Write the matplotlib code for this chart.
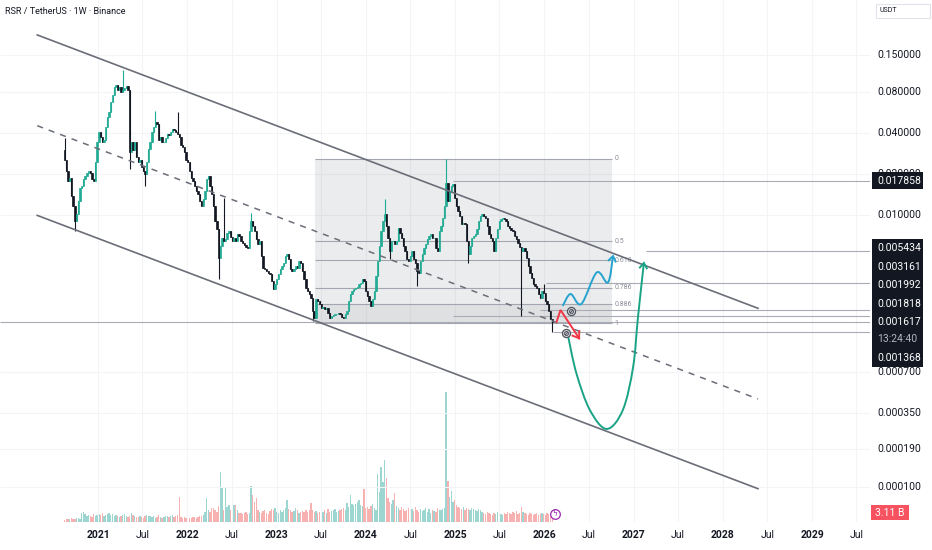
import numpy as np
import pandas as pd
import matplotlib
matplotlib.use("Agg")
import matplotlib.pyplot as plt
import matplotlib.dates as mdates
from matplotlib.path import Path
from matplotlib.patches import PathPatch, Rectangle
from matplotlib.lines import Line2D
from matplotlib.transforms import IdentityTransform, offset_copy

plt.rcParams['font.family'] = ['Roboto', 'DejaVu Sans']

W, H = 932, 550

# ---- weekly candles (RSR/USDT, closes) ----
week_start = "2020-08-17"
first_open = 0.0300
closes = [
    0.0255, 0.0209, 0.0177, 0.0186, 0.0137, 0.0116, 0.00899, 0.0101, 0.0126, 0.0157,
    0.0162, 0.0183, 0.0192, 0.0202, 0.0209, 0.0202, 0.0183, 0.0177, 0.0247, 0.0346,
    0.0410, 0.0377, 0.0346, 0.0358, 0.0446, 0.0527, 0.0574, 0.0679, 0.0764, 0.0874,
    0.0904, 0.0831, 0.0874, 0.0803, 0.0831, 0.0859, 0.0889, 0.0831, 0.0292, 0.0346,
    0.0302, 0.0346, 0.0269, 0.0247, 0.0255, 0.0227, 0.0209, 0.0199, 0.0247, 0.0307,
    0.0346, 0.0410, 0.0446, 0.0485, 0.0469, 0.0358, 0.0377, 0.0346, 0.0346, 0.0371,
    0.0396, 0.0390, 0.0410, 0.0431, 0.0424, 0.0410, 0.0396, 0.0377, 0.0329, 0.0318,
    0.0292, 0.0255, 0.0247, 0.0209, 0.0186, 0.0177, 0.0162, 0.0149, 0.0142, 0.0126,
    0.0116, 0.0130, 0.0149, 0.0183, 0.0192, 0.0162, 0.0142, 0.0116, 0.00899, 0.00785,
    0.00482, 0.00590, 0.00675, 0.00642, 0.00664, 0.00735, 0.00760, 0.00686, 0.00642, 0.00675,
    0.00642, 0.00722, 0.00698, 0.00642, 0.00620, 0.00600, 0.00580, 0.00570, 0.00760, 0.00899,
    0.00826, 0.00760, 0.00664, 0.00610, 0.00642, 0.00498, 0.00407, 0.00400, 0.00387, 0.00374,
    0.00368, 0.00327, 0.00286, 0.00311, 0.00338, 0.00368, 0.00400, 0.00421, 0.00443, 0.00498,
    0.00516, 0.00474, 0.00400, 0.00387, 0.00400, 0.00421, 0.00407, 0.00458, 0.00443, 0.00387,
    0.00338, 0.00291, 0.00277, 0.00263, 0.00246, 0.00197, 0.00175, 0.00242, 0.00234, 0.00222,
    0.00208, 0.00211, 0.00204, 0.00208, 0.00191, 0.00175, 0.00181, 0.00184, 0.00187, 0.00187,
    0.00191, 0.00187, 0.00178, 0.00175, 0.00187, 0.00197, 0.00234, 0.00263, 0.00277, 0.00286,
    0.00291, 0.00296, 0.00311, 0.00316, 0.00338, 0.00327, 0.00277, 0.00254, 0.00234, 0.00215,
    0.00242, 0.00277, 0.00356, 0.00458, 0.00590, 0.00760, 0.00899, 0.0101, 0.00826, 0.00675,
    0.00542, 0.00642, 0.00642, 0.00610, 0.00642, 0.00799, 0.00735, 0.00675, 0.00590, 0.00542,
    0.00474, 0.00458, 0.00498, 0.00542, 0.00474, 0.00443, 0.00387, 0.00374, 0.00458, 0.00516,
    0.00570, 0.00610, 0.00664, 0.00698, 0.00722, 0.00675, 0.00675, 0.00570, 0.00542, 0.00760,
    0.00826, 0.00946, 0.0116, 0.0171, 0.0126, 0.0149, 0.0162, 0.0168, 0.0133, 0.0116,
    0.01064, 0.00978, 0.00855, 0.00869, 0.00855, 0.00642, 0.00516, 0.00590, 0.00675, 0.00698,
    0.00722, 0.00785, 0.00899, 0.00978, 0.0101, 0.00978, 0.00946, 0.00826, 0.00722, 0.00675,
    0.00642, 0.00542, 0.00675, 0.00785, 0.00899, 0.00930, 0.00946, 0.00930, 0.00899, 0.00826,
    0.00799, 0.00772, 0.00760, 0.00698, 0.00664, 0.00620, 0.00580, 0.00542, 0.00570, 0.00542,
    0.00482, 0.00421, 0.00374, 0.00344, 0.00311, 0.00301, 0.00291, 0.00263, 0.00246, 0.00277,
    0.00268, 0.00234, 0.00222, 0.00197, 0.00172, 0.001617,
]
# notable wicks
spike_weeks = [0, 34, 53, 66, 93, 109, 187, 223, 280]
spike_highs = [0.0371, 0.117, 0.058, 0.0568, 0.0133, 0.0103, 0.0130, 0.0258, 0.00311]
dip_weeks = [6, 38, 47, 90, 145, 190, 206, 236, 267, 285]
dip_lows = [0.0076, 0.0216, 0.0162, 0.00338, 0.00167, 0.00474, 0.00301, 0.00443, 0.001818, 0.001368]

# weekly volume, billions
volumes = [
    0.8, 1.3, 1.3, 1.3, 1.7, 1.3, 1.3, 1.7, 1.7, 1.3,
    3.8, 4.2, 3.4, 2.5, 2.9, 2.5, 2.1, 3.4, 2.5, 2.9,
    3.4, 2.9, 3.8, 2.5, 2.9, 3.4, 3.8, 2.9, 3.4, 2.5,
    2.9, 2.5, 2.1, 2.5, 2.9, 3.4, 2.5, 2.1, 2.5, 3.8,
    2.9, 2.5, 2.1, 2.1, 2.5, 2.1, 1.7, 2.5, 2.9, 2.5,
    2.5, 2.1, 2.5, 1.7, 2.1, 2.9, 2.1, 1.7, 2.1, 2.5,
    2.5, 2.1, 2.5, 2.9, 2.1, 2.5, 2.9, 10.5, 2.1, 1.7,
    2.1, 1.7, 2.1, 1.7, 1.7, 2.1, 2.1, 1.7, 2.1, 2.5,
    2.5, 2.9, 4.2, 10.1, 5.0, 4.2, 5.9, 5.9, 5.0, 4.2,
    6.7, 21.0, 14.3, 5.0, 14.7, 6.3, 7.1, 5.0, 5.9, 7.1,
    7.1, 5.0, 3.8, 3.8, 3.4, 3.8, 4.2, 3.4, 3.8, 15.1,
    11.3, 8.4, 10.1, 5.0, 4.2, 3.8, 4.6, 5.0, 3.8, 3.4,
    4.6, 5.5, 5.0, 5.9, 4.2, 3.8, 5.0, 4.2, 5.0, 5.9,
    9.2, 5.5, 5.0, 4.2, 4.6, 5.9, 5.0, 3.8, 4.2, 4.6,
    4.2, 5.0, 4.2, 5.0, 8.0, 5.0, 4.2, 4.6, 3.8, 4.2,
    4.6, 4.2, 5.0, 3.8, 5.5, 4.2, 4.6, 5.0, 5.5, 4.2,
    4.6, 5.0, 5.5, 5.9, 5.0, 8.0, 6.3, 11.3, 7.6, 7.1,
    7.6, 8.4, 9.2, 7.1, 6.7, 13.9, 5.9, 6.3, 5.5, 6.7,
    7.6, 5.9, 5.0, 20.2, 12.6, 23.1, 16.8, 26.0, 18.5, 10.1,
    8.4, 7.6, 9.2, 12.2, 6.7, 5.9, 5.0, 6.3, 5.5, 4.6,
    5.0, 5.9, 4.2, 5.5, 4.6, 6.3, 5.0, 4.2, 5.5, 4.6,
    5.0, 5.9, 4.2, 5.5, 3.8, 5.0, 4.6, 4.2, 5.9, 5.0,
    5.0, 5.5, 5.9, 54.6, 17.2, 10.5, 13.0, 8.4, 9.2, 7.1,
    6.3, 5.9, 5.5, 6.3, 5.0, 5.9, 5.5, 5.0, 5.9, 5.5,
    5.0, 4.6, 5.5, 5.0, 4.2, 3.8, 3.4, 4.2, 3.8, 3.4,
    2.9, 3.8, 3.4, 4.2, 3.8, 3.4, 2.9, 3.8, 3.4, 4.2,
    3.8, 3.4, 4.2, 3.8, 4.6, 3.4, 3.8, 6.3, 4.2, 3.8,
    3.4, 2.9, 3.8, 3.4, 2.9, 3.4, 3.8, 2.9, 3.4, 3.8,
    3.4, 2.9, 3.8, 3.4, 2.9, 3.11,
]
last_price = 0.001617
countdown = "13:24:40"
volume_label = "3.11 B"

price_ticks = [0.15, 0.08, 0.04, 0.02, 0.01, 0.0007, 0.00035, 0.00019, 0.0001]
time_ticks = ['2021-01-01', '2021-07-01', '2022-01-01', '2022-07-01', '2023-01-01', '2023-07-01',
              '2024-01-01', '2024-07-01', '2025-01-01', '2025-07-01', '2026-01-01', '2026-07-01',
              '2027-01-01', '2027-07-01', '2028-01-01', '2028-07-01', '2029-01-01', '2029-07-01']
time_labels = ['2021', 'Jul', '2022', 'Jul', '2023', 'Jul', '2024', 'Jul', '2025', 'Jul',
               '2026', 'Jul', '2027', 'Jul', '2028', 'Jul', '2029', 'Jul']

# ---- drawings ----
channel_dates = ['2020-04-27', '2028-05-24']
channel_upper = [0.211, 0.002055]
channel_mid = [0.04534, 0.000442]
channel_lower = [0.00992, 9.67e-5]

fib_dates = ['2023-06-06', '2026-10-03']
fib_high = 0.0258
fib_low = 0.0016
fib_levels = [0, 0.5, 0.618, 0.786, 0.886, 1]
fib_labels = ['0', '0.5', '0.618', '0.786', '0.886', '1']

ray_prices = [0.017858, 0.005434, 0.003161, 0.001992, 0.001818, 0.001368]
ray_starts = ['2024-12-22', '2027-02-20', '2026-01-07', '2025-12-13', '2024-12-22', '2026-02-04']

cyan_dates = ['2026-03-17', '2026-04-18', '2026-06-01', '2026-08-03', '2026-09-18', '2026-10-09']
cyan_prices = [0.002137, 0.002618, 0.002211, 0.003770, 0.003182, 0.004983]
green_dates = ['2026-04-07', '2026-05-12', '2026-07-06', '2026-09-13', '2026-11-18',
               '2026-12-30', '2027-01-19', '2027-02-12']
green_prices = [0.001307, 0.000683, 0.000367, 0.000266, 0.000367, 0.000760, 0.001773, 0.004428]
red_dates = ['2026-02-20', '2026-03-08', '2026-05-23']
red_prices = [0.001637, 0.001998, 0.001237]
icon_dates = ['2026-04-21', '2026-04-01']
icon_prices = [0.001974, 0.001345]
event_date = '2026-02-13'
event_volume = 3.4

UP, DOWN = '#22ab94', '#131722'
GRID = '#f3f4f6'
TXT = '#131722'

# ---- figure / axes ----
fig = plt.figure(figsize=(W / 100, H / 100), dpi=100)
ax = fig.add_axes([0, 28 / H, 870 / W, 522 / H])
axv = ax.twinx()
ax.set_zorder(2)
ax.patch.set_visible(False)
axv.set_zorder(1)

jan21 = mdates.datestr2num('2021-01-01')
x0 = jan21 - 98.1 / 89.27 * 365.25
x1 = jan21 + (870 - 98.1) / 89.27 * 365.25
ax.set_yscale('log')
ax.set_xlim(x0, x1)
ax.set_ylim(10 ** -4.2596, 10 ** -0.4186)
axv.set_ylim(0, 219.2)

for a in (ax, axv):
    for s in a.spines.values():
        s.set_visible(False)
ax.tick_params(axis='y', which='both', left=False, right=False, labelleft=False, labelright=False)
axv.tick_params(axis='y', which='both', left=False, right=False, labelleft=False, labelright=False)
ax.yaxis.set_minor_locator(matplotlib.ticker.NullLocator())

tick_x = mdates.datestr2num(time_ticks)
ax.set_xticks(tick_x)
ax.set_xticklabels(time_labels)
ax.tick_params(axis='x', length=0, pad=5.5, labelsize=7.5, labelcolor=TXT)
for lbl, t in zip(ax.get_xticklabels(), time_labels):
    if t != 'Jul':
        lbl.set_fontweight('bold')

# grid
ax.hlines(price_ticks, x0, x1, color=GRID, lw=0.8, zorder=0)
ax.vlines(tick_x, 10 ** -4.2596, 10 ** -0.4186, color=GRID, lw=0.8, zorder=0)

# ---- candles ----
dates = pd.date_range(week_start, periods=len(closes), freq='7D')
x = mdates.date2num(dates)
c = np.array(closes)
o = np.concatenate([[first_open], c[:-1]])
body_hi = np.maximum(o, c)
body_lo = np.minimum(o, c)
hi = body_hi.copy()
lo = body_lo.copy()
for w, v in zip(spike_weeks, spike_highs):
    hi[w] = max(hi[w], v)
for w, v in zip(dip_weeks, dip_lows):
    lo[w] = min(lo[w], v)
up = c >= o
col = np.where(up, UP, DOWN)

ax.vlines(x, lo, hi, colors=col, lw=0.8, zorder=3)
ax.bar(x, body_hi - body_lo, bottom=body_lo, width=5.5, color=col, edgecolor=col, lw=0.5, zorder=3)

vcol = np.where(up, '#26a69a', '#ef5350')
axv.bar(x, volumes, width=5.5, color=vcol, alpha=0.45, lw=0)
axv.scatter([mdates.datestr2num(event_date)], [event_volume], s=48, facecolor='white',
            edgecolor='#9c27b0', lw=0.9, zorder=5)
axv.text(mdates.datestr2num(event_date), event_volume, 'ϟ', color='#9c27b0', fontsize=5.5,
         ha='center', va='center', family=['DejaVu Sans'], zorder=6)

# ---- fib box ----
fd = mdates.datestr2num(fib_dates)
lh, ll = np.log10(fib_high), np.log10(fib_low)
fib_prices = [10 ** (lh - f * (lh - ll)) for f in fib_levels]
ax.fill_between(fd, fib_low, fib_high, color='#787b86', alpha=0.14, lw=0, zorder=1)
ax.fill_between(fd, fib_low, fib_prices[4], color='#787b86', alpha=0.10, lw=0, zorder=1)
ax.hlines(fib_prices, fd[0], fd[1], color='#a3a6ae', lw=0.8, zorder=1.5)
lab_tr = offset_copy(ax.transData, fig=fig, x=3, y=0, units='dots')
for p, t in zip(fib_prices, fib_labels):
    ax.text(fd[1], p, t, transform=lab_tr, fontsize=5, color='#8c8f98', va='center', ha='left', zorder=2)

# ---- horizontal rays and price line ----
for p, d in zip(ray_prices, ray_starts):
    ax.hlines(p, mdates.datestr2num(d), x1, color='#a9acb4', lw=0.8, zorder=1.5)
ax.hlines(last_price, x0, x1, color='#a9acb4', lw=0.8, zorder=1.5)

# ---- channel ----
cd = mdates.datestr2num(channel_dates)
ax.plot(cd, channel_upper, color='#6b6e78', lw=1.2, zorder=4)
ax.plot(cd, channel_lower, color='#6b6e78', lw=1.2, zorder=4)
ax.plot(cd, channel_mid, color='#6b6e78', lw=1.1, dashes=(4, 4), zorder=4)


# ---- hand-drawn projections (smooth paths in pixel space) ----
def to_px(dts, prs):
    return ax.transData.transform(np.column_stack([mdates.datestr2num(dts), prs]))


def smooth(pts):
    verts = [pts[0]]
    codes = [Path.MOVETO]
    n = len(pts)
    for k in range(n - 1):
        p0 = pts[k - 1] if k > 0 else pts[k]
        p1, p2 = pts[k], pts[k + 1]
        p3 = pts[k + 2] if k + 2 < n else pts[k + 1]
        c1 = p1 + (p2 - p0) / 6
        c2 = p2 - (p3 - p1) / 6
        verts += [c1, c2, p2]
        codes += [Path.CURVE4] * 3
    return Path(verts, codes), p2 - c2


def arrowhead(tip, direction, color, size=7, ang=35):
    d = -direction / np.hypot(*direction)
    arms = []
    for s in (ang, -ang):
        r = np.radians(s)
        rot = np.array([[np.cos(r), -np.sin(r)], [np.sin(r), np.cos(r)]])
        arms.append(tip + size * rot @ d)
    ln = Line2D([arms[0][0], tip[0], arms[1][0]], [arms[0][1], tip[1], arms[1][1]],
                color=color, lw=1.4, transform=IdentityTransform(), zorder=6,
                solid_joinstyle='miter', solid_capstyle='butt')
    ax.add_artist(ln)


for dts, prs, color in [(cyan_dates, cyan_prices, '#27a3cf'), (green_dates, green_prices, '#1aa385')]:
    pts = to_px(dts, prs)
    path, tang = smooth(pts)
    ax.add_artist(PathPatch(path, fill=False, edgecolor=color, lw=1.4,
                            transform=IdentityTransform(), zorder=6))
    arrowhead(pts[-1], tang, color)

rp = to_px(red_dates, red_prices)
ax.add_artist(Line2D(rp[:, 0], rp[:, 1], color='#f23645', lw=1.4, transform=IdentityTransform(),
                     zorder=6, solid_joinstyle='miter'))
arrowhead(rp[-1], rp[-1] - rp[-2], '#f23645', size=8)

ax.scatter(mdates.datestr2num(icon_dates), icon_prices, s=34, facecolor='#d9dadd',
           edgecolor='#50535e', lw=0.9, zorder=7)
ax.scatter(mdates.datestr2num(icon_dates), icon_prices, s=10, marker=r'$\oslash$',
           color='#50535e', lw=0.3, zorder=8)

# ---- right price scale ----
ID = IdentityTransform()


def ypx(p):
    return ax.transData.transform((x0, p))[1]


for p in price_ticks:
    fig.text(877, ypx(p), f"{p:.6f}", transform=ID, fontsize=7.5, color=TXT, va='center', ha='left')


def box(yc, h=17, fc='#131722'):
    fig.add_artist(Rectangle((872, yc - h / 2), 51, h, transform=ID, facecolor=fc, edgecolor='none', zorder=11))


def boxtext(yc, s, color='white'):
    fig.text(877, yc, s, transform=ID, fontsize=7.5, color=color, va='center', ha='left', zorder=12)


y17 = ypx(ray_prices[0])
box(y17)
boxtext(y17, f"{ray_prices[0]:.6f}")

y0 = ypx(last_price)
stack = [(74, f"{ray_prices[1]:.6f}", 'white'), (55.5, f"{ray_prices[2]:.6f}", 'white'),
         (37, f"{ray_prices[3]:.6f}", 'white'), (18.5, f"{ray_prices[4]:.6f}", 'white'),
         (0, f"{last_price:.6f}", 'white'), (-17, countdown, '#b2b5be'),
         (-35.5, f"{ray_prices[5]:.6f}", 'white')]
fig.add_artist(Rectangle((872, y0 - 35.5 - 9), 51, 74 + 35.5 + 18, transform=ID,
                         facecolor='#131722', edgecolor='none', zorder=11))
for off, s, tc in stack:
    boxtext(y0 + off, s, tc)

yv = axv.transData.transform((x0, volumes[-1]))[1] + 2
fig.add_artist(Rectangle((871, yv - 7.5), 38, 15, transform=ID, facecolor='#f7525f',
                         edgecolor='none', zorder=11))
fig.text(875, yv, volume_label, transform=ID, fontsize=7.5, color='white', va='center', ha='left', zorder=12)

# header + currency box
fig.text(5, H - 11, "RSR / TetherUS · 1W · Binance", transform=ID, fontsize=6.5, color=TXT, va='center')
fig.add_artist(Rectangle((876, H - 17.5), 54, 14, transform=ID, facecolor='white',
                         edgecolor='#e0e3eb', lw=0.8, zorder=11))
fig.text(880, H - 10.5, "USDT", transform=ID, fontsize=5, color=TXT, va='center', zorder=12)

fig.savefig("out.png", dpi=100)
